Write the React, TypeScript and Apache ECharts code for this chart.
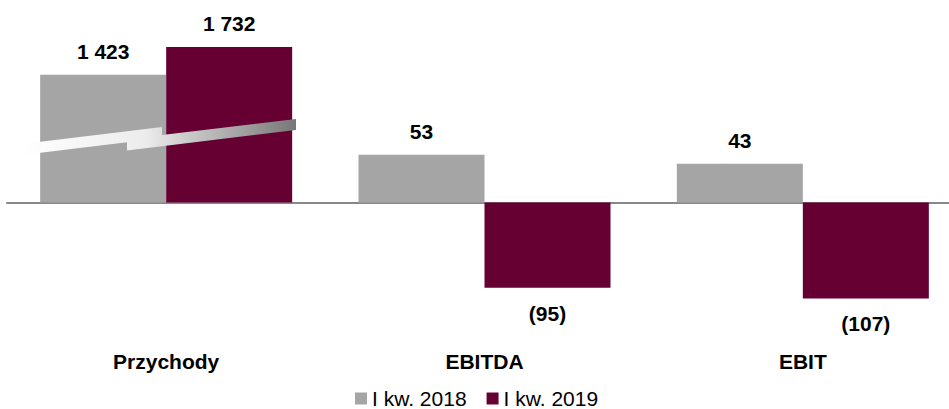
import React, { useEffect, useRef } from "react";
import * as echarts from "echarts";

const categories = ["Przychody", "EBITDA", "EBIT"];
const seriesNames = ["I kw. 2018", "I kw. 2019"];
const values2018 = [1423, 53, 43];
const values2019 = [1732, -95, -107];
// Przychody is drawn on its own (10x compressed) scale, as in the original
const revenueIndex = 0;

const COLORS = ["#A5A5A5", "#660033"];
const FONT = "'Liberation Sans', Arial, sans-serif";

function fmt(v: number): string {
  const s = Math.abs(v)
    .toString()
    .replace(/\B(?=(\d{3})+(?!\d))/g, " ");
  return v < 0 ? `(${s})` : s;
}

function splitData(values: number[], revenue: boolean) {
  return values.map((v, i) => ((i === revenueIndex) === revenue ? v : "-"));
}

export default function App() {
  const ref = useRef<HTMLDivElement>(null);
  useEffect(() => {
    if (!ref.current) return;
    const chart = echarts.init(ref.current, undefined, { renderer: "svg" });
    const labelBase = {
      show: true,
      fontFamily: FONT,
      fontSize: 21,
      fontWeight: "bold" as const,
      color: "#000",
      formatter: (p: any) => fmt(Number(p.value)),
    };
    const mkSeries = (idx: number, revenue: boolean) => {
      const vals = idx === 0 ? values2018 : values2019;
      return {
        type: "bar",
        name: seriesNames[idx],
        xAxisIndex: revenue ? 1 : 0,
        yAxisIndex: revenue ? 1 : 0,
        data: splitData(vals, revenue).map((v) =>
          v === "-"
            ? "-"
            : {
                value: v,
                label: {
                  ...labelBase,
                  position: (v as number) < 0 ? "bottom" : "top",
                  distance: (v as number) < 0 ? 15 : 13,
                },
              }
        ),
        barWidth: 126,
        barGap: "0%",
        itemStyle: { color: COLORS[idx] },
        label: labelBase,
      };
    };
    chart.setOption({
      animation: false,
      backgroundColor: "#ffffff",
      textStyle: { fontFamily: FONT },
      grid: { left: 7, width: 955, top: 5, height: 341 },
      legend: {
        data: seriesNames,
        top: 388,
        left: 355,
        padding: 0,
        icon: "rect",
        itemWidth: 12,
        itemHeight: 12,
        itemGap: 20,
        textStyle: { fontFamily: FONT, fontSize: 21, color: "#000" },
      },
      xAxis: [
        {
          type: "category",
          data: categories,
          position: "bottom",
          axisLine: { show: false, onZero: false },
          axisTick: { show: false },
          axisLabel: {
            margin: 5,
            fontFamily: FONT,
            fontSize: 21,
            fontWeight: "bold",
            color: "#000",
          },
        },
        {
          type: "category",
          data: categories,
          position: "bottom",
          axisLine: {
            show: true,
            onZero: true,
            onZeroAxisIndex: 0,
            lineStyle: { color: "#888888", width: 2 },
          },
          axisTick: { show: false },
          axisLabel: { show: false },
        },
      ],
      yAxis: [
        { type: "value", min: -160, max: 220, show: false, splitLine: { show: false } },
        { type: "value", min: -1600, max: 2200, show: false, splitLine: { show: false } },
      ],
      series: [mkSeries(0, false), mkSeries(1, false), mkSeries(0, true), mkSeries(1, true)],
      graphic: [
        {
          type: "polygon",
          z: 100,
          shape: {
            points: [
              [22, 144],
              [162, 127],
              [162, 135],
              [296, 119],
              [296, 130],
              [127, 150.5],
              [127, 142.3],
              [22, 155],
            ],
          },
          style: {
            fill: new echarts.graphic.LinearGradient(0, 0, 1, 0, [
              { offset: 0, color: "#ffffff" },
              { offset: 0.45, color: "#ececec" },
              { offset: 1, color: "#777777" },
            ]),
          },
        },
      ],
    });
    return () => chart.dispose();
  }, []);
  return (
    <div
      style={{
        position: "fixed",
        left: 0,
        top: 0,
        width: 949,
        height: 409,
        overflow: "hidden",
        background: "#fff",
      }}
    >
      <div ref={ref} style={{ width: 970, height: 409 }} />
    </div>
  );
}
